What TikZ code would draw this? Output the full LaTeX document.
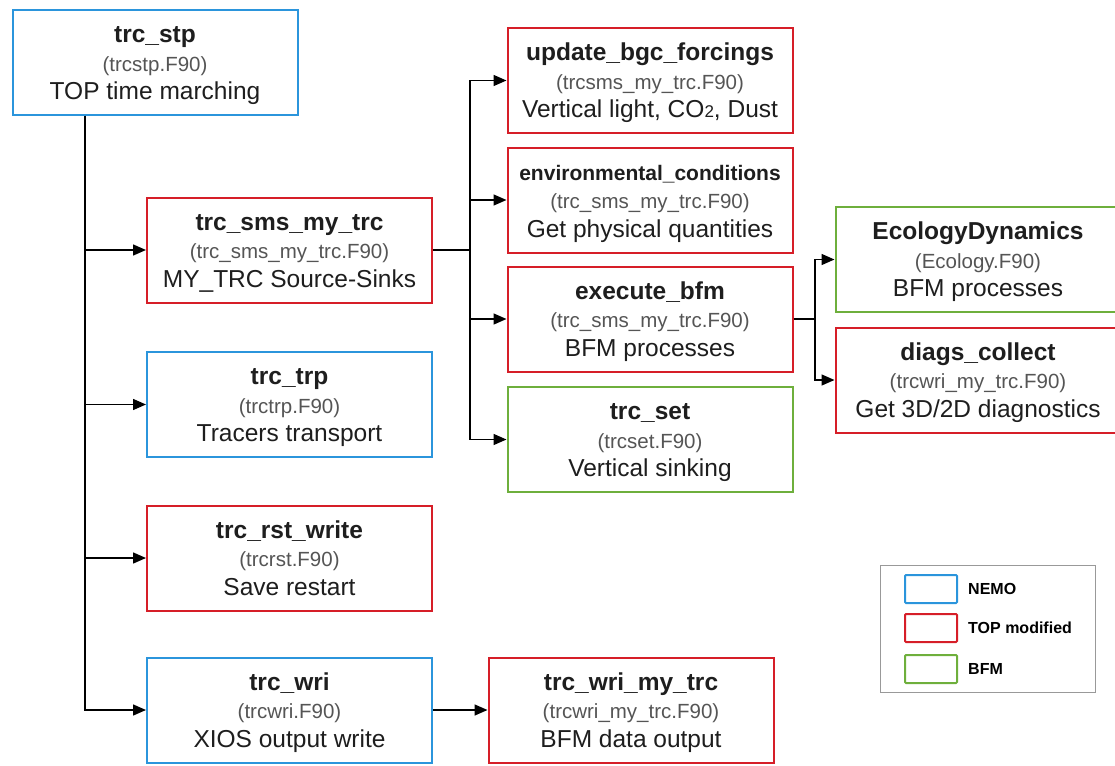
\documentclass[tikz,border=0pt]{standalone}
\usepackage{fontspec}
\setmainfont{Liberation Sans}
\usetikzlibrary{arrows.meta,positioning}

\definecolor{nemo}{HTML}{2B95DC}
\definecolor{topm}{HTML}{D61E28}
\definecolor{bfm}{HTML}{6EAF3C}
\definecolor{srcgray}{HTML}{555555}
\definecolor{txt}{HTML}{1E1E1E}

\newcommand\hd[1]{\textbf{#1}\rule{0pt}{26pt}}
\newcommand\srcf[1]{{\color{srcgray}\fontsize{20.5}{28.5}\selectfont #1\strut}}

\tikzset{
  blk/.style={draw, line width=2pt, fill=white, align=center, text=txt,
    minimum width=285, minimum height=105, inner sep=0pt,
    font=\fontsize{24.5}{28.5}\selectfont},
  nemobox/.style={blk, draw=nemo},
  topbox/.style={blk, draw=topm},
  bfmbox/.style={blk, draw=bfm},
  link/.style={line width=1.5pt, -{Triangle[length=13pt,width=11pt]}},
  keybox/.style={draw, line width=2pt, rounded corners=1pt, minimum width=52, minimum height=28, inner sep=0pt},
  keytxt/.style={font=\bfseries\fontsize{16}{18}\selectfont, inner sep=1pt, anchor=west}
}

\begin{document}
\begin{tikzpicture}[x=1pt,y=-1pt]
\useasboundingbox (0,0) rectangle (1115,765);

% left column
\node[nemobox] (stp) at (155,62.5) {\hd{trc\_stp}\\\srcf{(trcstp.F90)}\\TOP time marching\strut};
\node[topbox] (sms) at (289.5,250) {\hd{trc\_sms\_my\_trc}\\\srcf{(trc\_sms\_my\_trc.F90)}\\MY\_TRC Source-Sinks\strut};
\node[nemobox] (trp) at (289.5,404.5) {\hd{trc\_trp}\\\srcf{(trctrp.F90)}\\Tracers transport\strut};
\node[topbox] (rst) at (289.5,558) {\hd{trc\_rst\_write}\\\srcf{(trcrst.F90)}\\Save restart\strut};
\node[nemobox] (wri) at (289.5,710) {\hd{trc\_wri}\\\srcf{(trcwri.F90)}\\XIOS output write\strut};
\node[topbox] (wrimy) at (631,710) {\hd{trc\_wri\_my\_trc}\\\srcf{(trcwri\_my\_trc.F90)}\\BFM data output\strut};

% middle column
\node[topbox] (upd) at (650,80.5) {\hd{update\_bgc\_forcings}\\\srcf{(trcsms\_my\_trc.F90)}\\Vertical light, CO{\fontsize{17}{28.5}\selectfont 2}, Dust\strut};
\node[topbox] (env) at (650,200) {\hd{\fontsize{21}{28.5}\selectfont environmental\_conditions}\\\srcf{(trc\_sms\_my\_trc.F90)}\\Get physical quantities\strut};
\node[topbox] (exe) at (650,319) {\hd{execute\_bfm}\\\srcf{(trc\_sms\_my\_trc.F90)}\\BFM processes\strut};
\node[bfmbox] (set) at (650,439.5) {\hd{trc\_set}\\\srcf{(trcset.F90)}\\Vertical sinking\strut};

% right column
\node[bfmbox] (eco) at (978,259.5) {\hd{EcologyDynamics}\\\srcf{(Ecology.F90)}\\BFM processes\strut};
\node[topbox] (diag) at (978,380) {\hd{diags\_collect}\\\srcf{(trcwri\_my\_trc.F90)}\\Get 3D/2D diagnostics\strut};

\coordinate (tk) at (85,0);
\coordinate (sp) at (470,0);
\coordinate (ep) at (815,0);

\foreach \n in {sms,trp,rst,wri}
  \draw[link] (stp.south -| tk) |- (\n);
\foreach \n in {upd,env,exe,set}
  \draw[link] (sms.east) -- (sms.east -| sp) |- (\n);
\foreach \n in {eco,diag}
  \draw[link] (exe.east) -- (exe.east -| ep) |- (\n);
\draw[link] (wri) -- (wrimy);

% legend
\node[draw=gray!80, line width=1pt, minimum width=215, minimum height=127, inner sep=0pt] (leg) at (987.5,628.5) {};
\node[keybox, draw=nemo] (k1) at (931,589) {};
\node[keybox, draw=topm] (k2) at (931,628) {};
\node[keybox, draw=bfm] (k3) at (931,669) {};
\node[keytxt, right=9pt of k1.east] (l1) {NEMO};
\node[keytxt, right=9pt of k2.east] (l2) {TOP modified};
\node[keytxt, right=9pt of k3.east] (l3) {BFM};
\end{tikzpicture}
\end{document}
